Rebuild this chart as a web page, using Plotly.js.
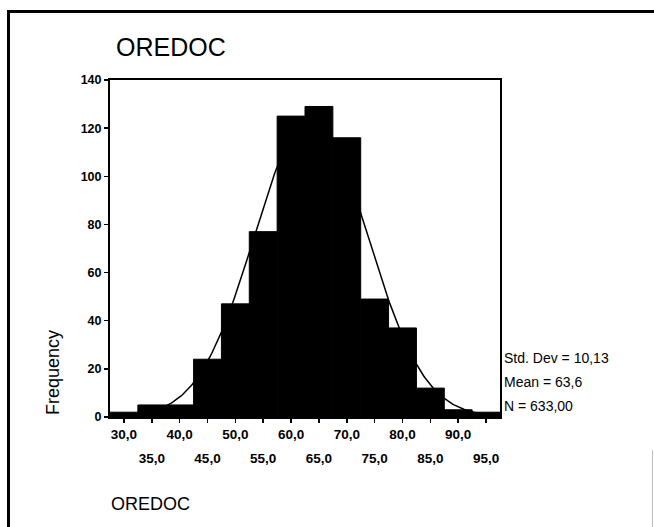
<!DOCTYPE html>
<html>
<head>
<meta charset="utf-8">
<script src="https://cdn.plot.ly/plotly-3.0.1.min.js"></script>
<style>
  html, body { margin: 0; padding: 0; background: #fff; }
  #chart { width: 654px; height: 527px; }
</style>
</head>
<body>
<div id="chart"></div>
<script>
// Histogram of OREDOC: bin centres (width 5) and frequencies
const binCenters = [30, 35, 40, 45, 50, 55, 60, 65, 70, 75, 80, 85, 90, 95];
const frequencies = [2, 5, 5, 24, 47, 77, 125, 129, 116, 49, 37, 12, 3, 2];
const binWidth = 5;

// Summary statistics printed beside the plot
const stdDev = 10.13;
const mean = 63.6;
const nCases = 633;

// Tick labels: first row and staggered second row
const tickRow1Vals = [30, 40, 50, 60, 70, 80, 90];
const tickRow1Text = ['30,0', '40,0', '50,0', '60,0', '70,0', '80,0', '90,0'];
const tickRow2Vals = [35, 45, 55, 65, 75, 85, 95];
const tickRow2Text = ['35,0', '45,0', '55,0', '65,0', '75,0', '85,0', '95,0'];
const yTickVals = [0, 20, 40, 60, 80, 100, 120, 140];

const fmt = (v, d) => v.toFixed(d).replace('.', ',');

// Fitted normal curve from the reported mean, std. dev and N
const curveX = [], curveY = [];
const lo = binCenters[0] - binWidth / 2, hi = binCenters[binCenters.length - 1] + binWidth / 2;
for (let x = lo; x <= hi + 1e-9; x += 0.25) {
  const z = (x - mean) / stdDev;
  curveX.push(x);
  curveY.push(nCases * binWidth * Math.exp(-0.5 * z * z) / (stdDev * Math.sqrt(2 * Math.PI)));
}

// Plot-area geometry (pixels) used to place the free-standing texts
const W = 654, H = 527;
const M = { l: 110, r: 154, t: 80, b: 110 };
const pw = W - M.l - M.r, ph = H - M.t - M.b;
const px = x => (x - M.l) / pw;
const py = y => (H - M.b - y) / ph;

const FONT = 'Liberation Sans, Arial, sans-serif';

const traces = [
  {
    type: 'bar',
    x: binCenters,
    y: frequencies,
    width: binWidth,
    marker: { color: '#000', line: { color: '#000', width: 1 } },
    hoverinfo: 'x+y',
    xaxis: 'x', yaxis: 'y'
  },
  {
    type: 'scatter',
    mode: 'lines',
    x: curveX,
    y: curveY,
    line: { color: '#000', width: 1.5 },
    hoverinfo: 'skip',
    xaxis: 'x', yaxis: 'y'
  },
  {
    // invisible carrier for the staggered second row of x labels
    type: 'scatter', mode: 'markers',
    x: [lo], y: [0], marker: { opacity: 0 }, hoverinfo: 'skip',
    xaxis: 'x2', yaxis: 'y'
  }
];

const layout = {
  width: W, height: H,
  margin: M,
  paper_bgcolor: '#fff',
  plot_bgcolor: '#fff',
  showlegend: false,
  font: { family: FONT, color: '#000' },
  title: {
    text: 'OREDOC',
    font: { family: FONT, size: 25, color: '#000' },
    xref: 'container', yref: 'container',
    x: 116 / W, xanchor: 'left',
    y: 1 - 47 / H, yanchor: 'middle'
  },
  xaxis: {
    range: [lo, hi],
    tickmode: 'array',
    tickvals: binCenters,
    ticktext: binCenters.map(v => tickRow1Vals.includes(v) ? tickRow1Text[tickRow1Vals.indexOf(v)] : ''),
    ticks: 'outside', ticklen: 4, tickwidth: 1.5, tickcolor: '#000',
    tickfont: { family: FONT, size: 13.5, color: '#000', weight: 'bold' },
    showline: true, linecolor: '#000', linewidth: 2, mirror: true,
    showgrid: false, zeroline: false,
    fixedrange: true
  },
  xaxis2: {
    overlaying: 'x', matches: 'x', side: 'bottom',
    range: [lo, hi],
    tickmode: 'array',
    tickvals: tickRow2Vals,
    ticktext: tickRow2Text,
    ticks: '', ticklabelstandoff: 31,
    tickfont: { family: FONT, size: 13.5, color: '#000', weight: 'bold' },
    showline: false, showgrid: false, zeroline: false
  },
  yaxis: {
    range: [0, 140],
    tickmode: 'array',
    tickvals: yTickVals,
    ticktext: yTickVals.map(String),
    ticks: 'outside', ticklen: 4, tickwidth: 1.5, tickcolor: '#000',
    tickfont: { family: FONT, size: 12.5, color: '#000', weight: 'bold' },
    showline: true, linecolor: '#000', linewidth: 2, mirror: true,
    showgrid: false, zeroline: false,
    fixedrange: true
  },
  annotations: [
    {
      text: 'Frequency', textangle: -90,
      xref: 'paper', yref: 'paper', x: px(53), y: py(373),
      xanchor: 'center', yanchor: 'middle', showarrow: false,
      font: { family: FONT, size: 18, color: '#000' }
    },
    {
      text: 'Std. Dev = ' + fmt(stdDev, 2),
      xref: 'paper', yref: 'paper', x: px(502), y: py(358),
      xanchor: 'left', yanchor: 'middle', showarrow: false,
      font: { family: FONT, size: 14, color: '#000' }
    },
    {
      text: 'Mean = ' + fmt(mean, 1),
      xref: 'paper', yref: 'paper', x: px(502), y: py(382),
      xanchor: 'left', yanchor: 'middle', showarrow: false,
      font: { family: FONT, size: 14, color: '#000' }
    },
    {
      text: 'N = ' + fmt(nCases, 2),
      xref: 'paper', yref: 'paper', x: px(502), y: py(406),
      xanchor: 'left', yanchor: 'middle', showarrow: false,
      font: { family: FONT, size: 14, color: '#000' }
    },
    {
      text: 'OREDOC',
      xref: 'paper', yref: 'paper', x: px(109), y: py(504),
      xanchor: 'left', yanchor: 'middle', showarrow: false,
      font: { family: FONT, size: 18, color: '#000' }
    }
  ],
  shapes: [
    // outer frame
    { type: 'line', xref: 'paper', yref: 'paper', x0: px(8.5), x1: px(8.5), y0: py(10), y1: py(530), line: { color: '#000', width: 3 } },
    { type: 'line', xref: 'paper', yref: 'paper', x0: px(7), x1: px(656), y0: py(11.5), y1: py(11.5), line: { color: '#000', width: 3 } },
    { type: 'line', xref: 'paper', yref: 'paper', x0: px(652.5), x1: px(652.5), y0: py(450), y1: py(530), line: { color: '#bbb', width: 1 } }
  ]
};

Plotly.newPlot('chart', traces, layout, { staticPlot: true, displayModeBar: false });
</script>
</body>
</html>
